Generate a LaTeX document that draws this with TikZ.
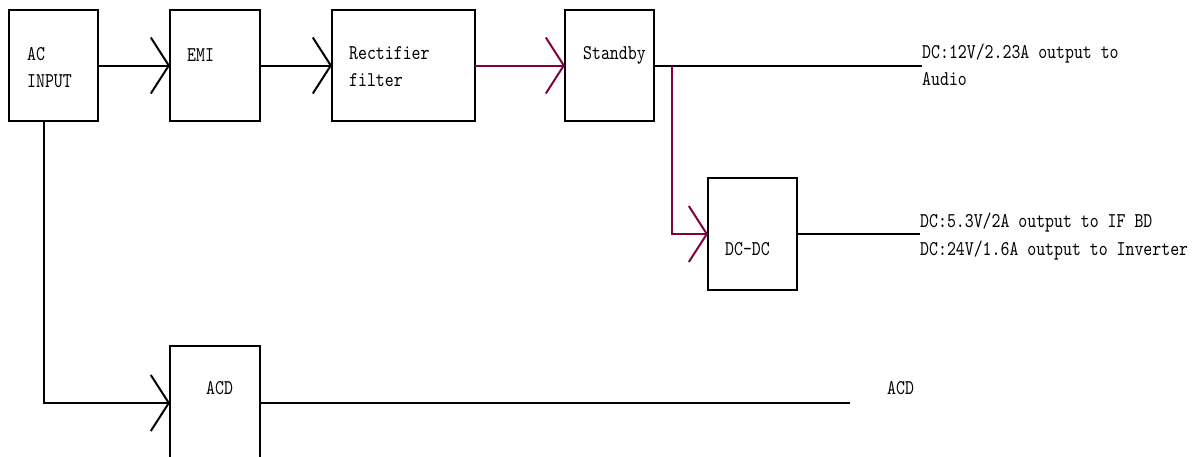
\documentclass[tikz,border=0pt]{standalone}
\usepackage{fontspec}
\setmonofont{lmmono10-regular.otf}[FakeStretch=0.81]
\usetikzlibrary{arrows.meta}
\definecolor{wire}{RGB}{128,0,64}
\begin{document}
\begin{tikzpicture}[x=1pt,y=-1pt,
  blk/.style={draw,line width=2pt,rectangle,inner sep=0pt,outer sep=0pt},
  conn/.style={line width=2pt},
  tipped/.style={-{Straight Barb[length=18pt,width=56pt]}},
  txt/.style={anchor=base west,inner sep=0pt,font=\fontsize{21}{27}\selectfont\ttfamily}]
\useasboundingbox (0,0) rectangle (1200,456);
% blocks
\node[blk,minimum width=89pt,minimum height=111pt] (ac) at (53.5,65.5) {};
\node[blk,minimum width=90pt,minimum height=111pt] (emi) at (215,65.5) {};
\node[blk,minimum width=143pt,minimum height=111pt] (rect) at (403.5,65.5) {};
\node[blk,minimum width=89pt,minimum height=111pt] (stby) at (609.5,65.5) {};
\node[blk,minimum width=89pt,minimum height=112pt] (dcdc) at (752.5,234) {};
\node[blk,minimum width=90pt,minimum height=116pt] (acd) at (215,404) {};
% texts
\node[txt] (t1) at (27,60) {AC};
\node[txt] (t2) at (27,87) {INPUT};
\node[txt] (t3) at (187,61) {EMI};
\node[txt] (t4) at (349,59) {Rectifier};
\node[txt] (t5) at (349,86) {filter};
\node[txt] (t6) at (583,59) {Standby};
\node[txt] (t7) at (725,255) {DC-DC};
\node[txt] (t8) at (206,394) {ACD};
\node[txt] (o1) at (922,58) {DC:12V/2.23A output to};
\node[txt] (o2) at (922,85) {Audio};
\node[txt] (o3) at (920,227) {DC:5.3V/2A output to IF BD};
\node[txt] (o4) at (920,255) {DC:24V/1.6A output to Inverter};
\node[txt] (o5) at (887,394) {ACD};
% end points
\coordinate (e1) at (922,65.5);
\coordinate (e2) at (920,234);
\coordinate (e3) at (850,403);
\coordinate (br) at (672,65.5);
\coordinate (dn) at (44,121);
% connectors
\draw[conn,tipped] (ac.east) -- (emi.west);
\draw[conn,tipped] (emi.east) -- (rect.west);
\draw[conn,tipped,wire] (rect.east) -- (stby.west);
\draw[conn] (stby.east) -- (e1);
\draw[conn,tipped,wire] (br) |- (dcdc.west);
\draw[conn] (dcdc.east) -- (e2);
\draw[conn,tipped] (dn) |- (acd.west |- 0,403);
\draw[conn] (acd.east |- 0,403) -- (e3);
\end{tikzpicture}
\end{document}
